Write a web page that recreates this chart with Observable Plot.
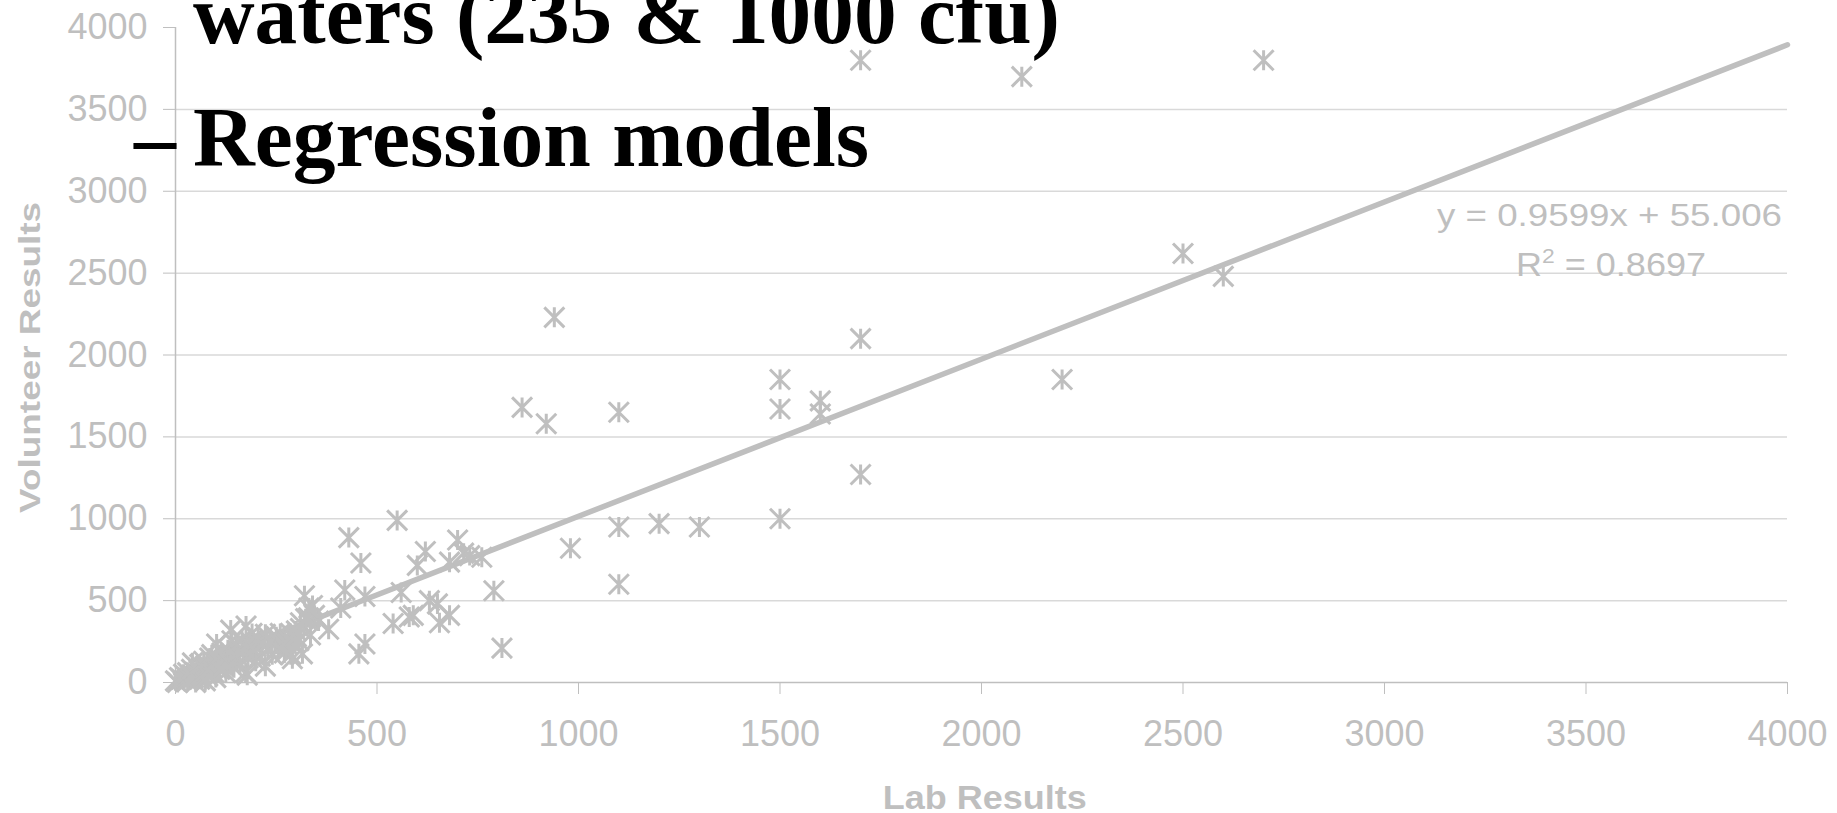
<!DOCTYPE html>
<html><head><meta charset="utf-8">
<script src="https://cdn.jsdelivr.net/npm/d3@7"></script>
<script src="https://cdn.jsdelivr.net/npm/@observablehq/plot@0.6"></script>
<style>html,body{margin:0;padding:0;background:#fff;overflow:hidden}</style>
</head><body><div id="chart"></div>
<script>
// ---- data ----
const labResults = [
  1700,2100,2700,2500,2600,2200,940,1700,1500,1500,1600,1600,1700,860,920,1100,1500,1100,1200,1300,980,1100,810,
  550,430,460,700,620,600,680,715,730,760,790,320,420,470,560,630,650,540,580,590,655,680,455,470,380,410,340,345,330,310,300,355,285,335,
  0,5,10,15,20,25,30,30,35,40,42,45,50,50,55,58,60,60,65,70,74,74,75,80,85,88,90,95,100,100,102,105,110,115,120,124,125,130,135,137,140,140,145,150,150,155,160,165,170,174,175,175,178,180,185,190,195,199,200,205,209,210,215,223,223,230,235,240,248,250,255,260,265,270,273,276,280,286,290,295,300,306,310,315,323,331
];
const volunteerResults = [
  3800,3700,3800,2620,2480,1850,2230,2100,1850,1670,1720,1640,1270,1680,1580,1650,1000,950,970,950,820,600,210,
  990,885,730,870,800,715,735,790,775,765,560,530,565,525,550,500,480,360,400,410,365,410,175,235,325,455,470,410,395,365,315,375,300,290,
  10,0,30,20,50,40,10,60,25,80,120,30,60,0,90,70,20,110,50,130,100,10,70,40,150,90,170,60,120,30,235,140,80,180,100,150,60,200,120,320,160,255,90,230,140,190,110,260,190,60,345,210,45,150,250,300,180,130,220,270,255,160,240,295,100,200,250,170,235,280,210,300,225,180,210,236,260,170,145,240,280,255,330,175,390,455
];
const xTicks = [0,500,1000,1500,2000,2500,3000,3500,4000];
const yTicks = [0,500,1000,1500,2000,2500,3000,3500,4000];
const gridTicks = [500,1000,1500,2000,2500,3000,3500];
const trendSlope = 0.9599;
const trendIntercept = 55.006;
const rSquaredText = "0.8697";
const trendX = [0, 4000];
const titleLine1 = "waters (235 & 1000 cfu)";
const titleLine2 = "Regression models";
const xLabel = "Lab Results";
const yLabel = "Volunteer Results";

const points = labResults.map((x, i) => ({x, y: volunteerResults[i]}));
const trend = trendX.map(x => ({x, y: trendSlope * x + trendIntercept}));

// Excel-like star marker: X plus vertical bar
const star = {
  draw(ctx, size) {
    const r = Math.sqrt(size / Math.PI);
    ctx.moveTo(-r, -r); ctx.lineTo(r, r);
    ctx.moveTo(r, -r); ctx.lineTo(-r, r);
    ctx.moveTo(0, -r); ctx.lineTo(0, r);
  }
};

const grey = "#bfbfbf";
const chart = Plot.plot({
  width: 1837, height: 813,
  marginLeft: 175, marginRight: 50, marginTop: 27, marginBottom: 131,
  style: {fontFamily: "'Liberation Sans', Arial, sans-serif", color: grey, background: "#fff", overflow: "visible"},
  x: {domain: [0, 4000]},
  y: {domain: [0, 4000]},
  marks: [
    Plot.gridY(gridTicks, {stroke: "#d9d9d9", strokeOpacity: 1, strokeWidth: 1.5}),
    Plot.ruleX([0], {stroke: grey, strokeWidth: 1.5}),
    Plot.ruleY([0], {stroke: grey, strokeWidth: 1.5}),
    Plot.axisX(xTicks, {tickSize: 12, tickPadding: 26, fontSize: 36, label: null, tickFormat: d => String(d), stroke: grey, fill: grey}),
    Plot.axisY(yTicks, {tickSize: 12, tickPadding: 16, fontSize: 36, label: null, tickFormat: d => String(d), stroke: grey, fill: grey}),
    Plot.line(trend, {x: "x", y: "y", stroke: grey, strokeWidth: 5.5}),
    Plot.dot(points, {x: "x", y: "y", symbol: star, r: 10, stroke: grey, strokeWidth: 3, fill: "none"})
  ]
});
document.getElementById("chart").appendChild(chart);

const svg = d3.select(chart);
// axis titles
svg.append("text").text(xLabel)
  .attr("x", 984.7).attr("y", 809).attr("text-anchor", "middle")
  .attr("font-size", 34).attr("font-weight", "bold").attr("fill", grey)
  .attr("textLength", 204).attr("lengthAdjust", "spacingAndGlyphs");
svg.append("text").text(yLabel)
  .attr("transform", "translate(40,357.4) rotate(-90)").attr("text-anchor", "middle")
  .attr("font-size", 29).attr("font-weight", "bold").attr("fill", grey)
  .attr("textLength", 311).attr("lengthAdjust", "spacingAndGlyphs");
// trendline equation
svg.append("text").text(`y = ${trendSlope}x + ${trendIntercept}`)
  .attr("x", 1782).attr("y", 226).attr("text-anchor", "end")
  .attr("font-size", 31).attr("fill", grey)
  .attr("textLength", 345).attr("lengthAdjust", "spacingAndGlyphs");
const r2 = svg.append("text").attr("x", 1516).attr("y", 276).attr("text-anchor", "start")
  .attr("font-size", 33).attr("fill", grey)
  .attr("textLength", 190).attr("lengthAdjust", "spacingAndGlyphs");
r2.append("tspan").text("R");
r2.append("tspan").text("2").attr("font-size", 21).attr("dy", -13);
r2.append("tspan").text(` = ${rSquaredText}`).attr("dy", 13);
// overlaid slide title
const serif = "'Liberation Serif', 'Times New Roman', serif";
svg.append("text").text(titleLine1).attr("text-anchor", "start")
  .attr("x", 193).attr("y", 43).attr("font-family", serif).attr("font-weight", "bold")
  .attr("font-size", 84).attr("fill", "#000")
  .attr("textLength", 867).attr("lengthAdjust", "spacingAndGlyphs");
svg.append("text").text("\u2013").attr("text-anchor", "start")
  .attr("x", 134).attr("y", 166).attr("font-family", serif).attr("font-weight", "bold")
  .attr("font-size", 84).attr("fill", "#000");
svg.append("text").text(titleLine2).attr("text-anchor", "start")
  .attr("x", 193).attr("y", 166).attr("font-family", serif).attr("font-weight", "bold")
  .attr("font-size", 84).attr("fill", "#000")
  .attr("textLength", 676).attr("lengthAdjust", "spacingAndGlyphs");
</script>
</body></html>
